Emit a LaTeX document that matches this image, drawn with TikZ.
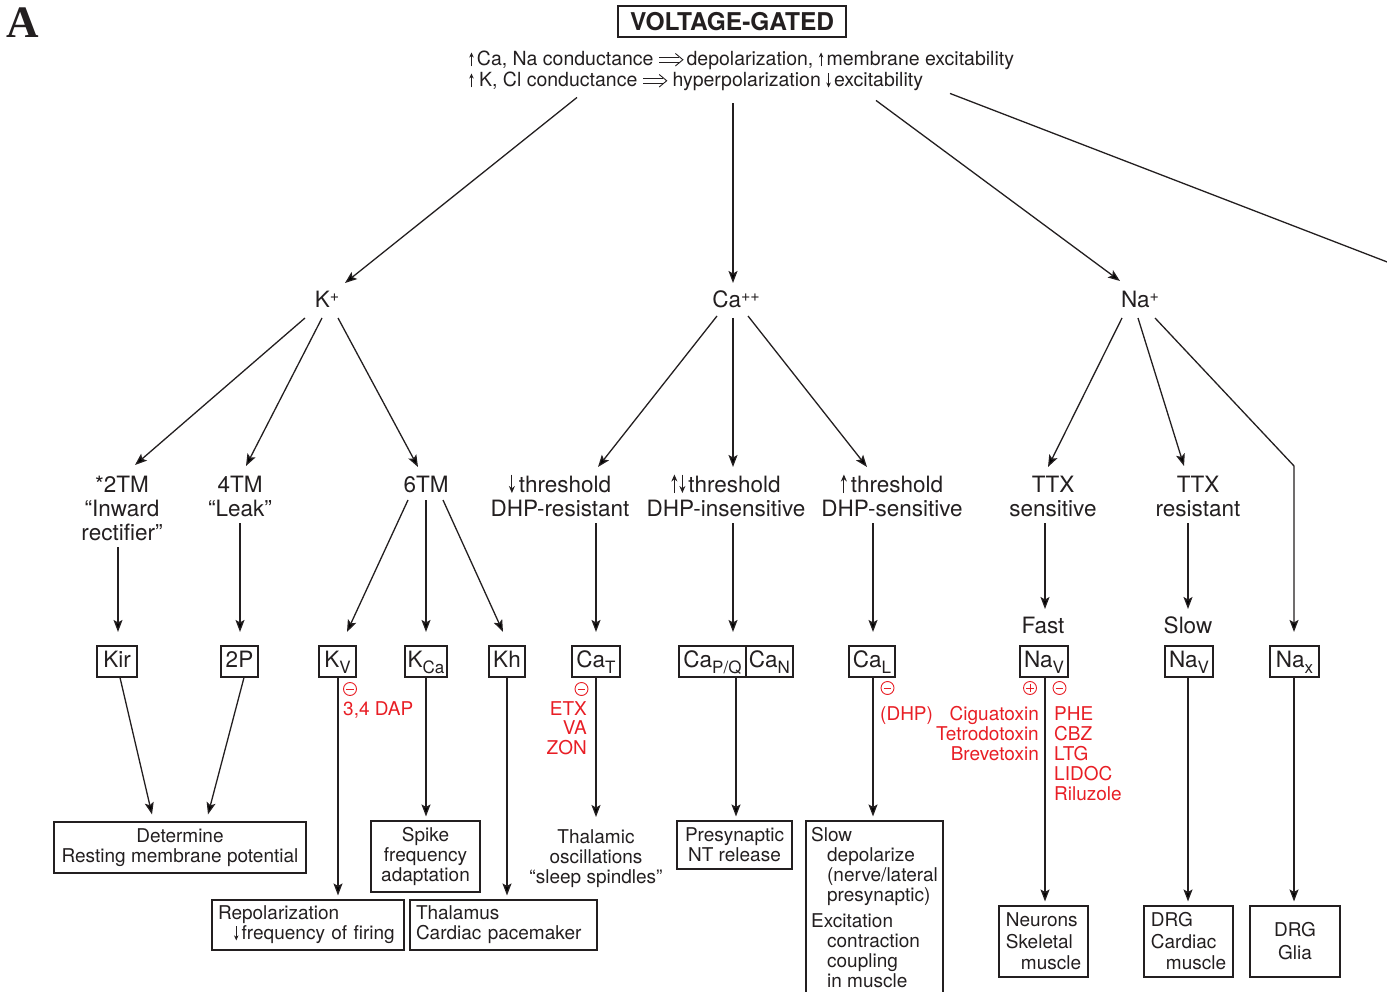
\documentclass[tikz,border=0pt]{standalone}
\usepackage{fontspec}
\setmainfont{TeX Gyre Heros}
\newfontfamily\serifA{Liberation Serif}
\usetikzlibrary{arrows.meta,calc}
\definecolor{drug}{RGB}{232,30,37}
\definecolor{ink}{RGB}{35,31,32}
\newcommand{\ionsup}[1]{\raisebox{6.5pt}{\fontsize{16}{16}\selectfont #1}}
\newcommand{\chsub}[1]{\raisebox{-0.28em}{\fontsize{17}{17}\selectfont #1}}
\newcommand{\bigup}{\tikz[baseline=0pt]\draw[draw=ink,line width=1.1pt,-{Stealth[length=7pt,width=6pt]}] (0pt,-1pt) -- (0pt,17.5pt);}
\newcommand{\bigdown}{\tikz[baseline=0pt]\draw[draw=ink,line width=1.1pt,-{Stealth[length=7pt,width=6pt]}] (0pt,17.5pt) -- (0pt,-1pt);}
\newcommand{\smup}{\tikz[baseline=0pt]\draw[draw=ink,line width=0.9pt,-{Stealth[length=5pt,width=4.5pt]}] (0pt,-0.5pt) -- (0pt,13.5pt);}
\newcommand{\smdown}{\tikz[baseline=0pt]\draw[draw=ink,line width=0.9pt,-{Stealth[length=5pt,width=4.5pt]}] (0pt,13.5pt) -- (0pt,-0.5pt);}
\newcommand{\implarr}{\tikz[baseline=0pt]{\draw[draw=ink,line width=0.9pt] (0pt,4pt) -- (20pt,4pt) (0pt,8.5pt) -- (20pt,8.5pt);
  \draw[draw=ink,line width=0.9pt,line join=miter] (16pt,12.5pt) -- (23.5pt,6.25pt) -- (16pt,0pt);}}
\tikzset{
  tbig/.style={font=\fontsize{22.5}{24}\selectfont},
  tsml/.style={font=\fontsize{19}{20}\selectfont},
  lbl/.style={tbig, align=center, inner sep=2pt, text=ink, anchor=base},
  arr/.style={draw=ink, line width=1.3pt, -{Stealth[length=12pt,width=9pt,inset=2.5pt]}},
  ln/.style={draw=ink, line width=1.3pt},
  framed/.style={draw=ink, line width=1.1pt, inner sep=0pt, text=ink},
  chbox/.style={framed, tbig, minimum height=31pt, text height=16pt, text depth=5pt},
  bbox/.style={framed, tsml, align=center},
  lbox/.style={framed, tsml, align=left},
  ltbox/.style={framed, tsml, align=left, inner xsep=6pt},
  drugtxt/.style={font=\fontsize{19}{20}\selectfont, text=drug, inner sep=0pt},
  sign/.style={circle, draw=drug, line width=0.9pt, minimum size=13pt, inner sep=0pt},
  signminus/.style={sign, path picture={\draw[drug,line width=1pt] ([xshift=-3.6pt]path picture bounding box.center) -- ([xshift=3.6pt]path picture bounding box.center);}},
  signplus/.style={sign, path picture={\draw[drug,line width=1pt] ([xshift=-3.6pt]path picture bounding box.center) -- ([xshift=3.6pt]path picture bounding box.center) ([yshift=-3.6pt]path picture bounding box.center) -- ([yshift=3.6pt]path picture bounding box.center);}},
}
\begin{document}
\begin{tikzpicture}[x=1pt,y=-1pt]
\useasboundingbox (0,0) rectangle (1387,992);

% label A
\node[font=\serifA\bfseries\fontsize{45}{45}\selectfont, anchor=base west, inner sep=0pt, text=ink] (lblA) at (6,38) {A};

% title and header
\node[framed, font=\fontsize{24.5}{26}\selectfont\bfseries, minimum width=228pt, minimum height=31pt] (title) at (732,21.5) {VOLTAGE-GATED};
\node[font=\fontsize{19.5}{21}\selectfont, anchor=base west, align=left, inner sep=0pt, text=ink] (hdr) at (469,87)
  {\smup\,Ca, Na conductance \implarr\,depolarization, \smup\,membrane excitability\\
   \smup\ K, Cl conductance \implarr\ hyperpolarization \smdown\,excitability};

% ions
\node[lbl] (Kion) at (327,308) {K\ionsup{+}};
\node[lbl] (Caion) at (736,308) {Ca\ionsup{++}};
\node[lbl] (Naion) at (1140,308) {Na\ionsup{+}};

% second level (base = last line)
\node[lbl] (tm2) at (122,540) {*2TM\\``Inward\\rectifier''};
\node[lbl] (tm4) at (240,516) {4TM\\``Leak''};
\node[lbl] (tm6) at (426,492) {6TM};
\node[lbl] (thr1) at (560,516) {\bigdown\hspace{4pt}threshold\\DHP-resistant};
\node[lbl] (thr2) at (726,516) {\bigup\hspace{2pt}\bigdown\hspace{3pt}threshold\\DHP-insensitive};
\node[lbl] (thr3) at (892,516) {\bigup\hspace{4pt}threshold\\DHP-sensitive};
\node[lbl] (ttxs) at (1053,516) {TTX\\sensitive};
\node[lbl] (ttxr) at (1198,516) {TTX\\resistant};
\node[lbl] (fast) at (1043,633) {Fast};
\node[lbl] (slow) at (1188,633) {Slow};

% third level boxes
\node[chbox, minimum width=40pt] (Kir) at (117,661.5) {Kir};
\node[chbox, minimum width=37pt] (twoP) at (239.5,661.5) {2P};
\node[chbox, minimum width=37pt] (Kv) at (337.5,661.5) {K\chsub{V}};
\node[chbox, minimum width=42pt] (Kca) at (426,661.5) {K\chsub{Ca}};
\node[chbox, minimum width=36pt] (Kh) at (507,661.5) {Kh};
\node[chbox, minimum width=48pt] (CaT) at (596,661.5) {Ca\chsub{T}};
\node[chbox, minimum width=67pt] (CaPQ) at (712.5,661.5) {Ca\chsub{P/Q}};
\node[chbox, minimum width=47pt] (CaN) at (769.5,661.5) {Ca\chsub{N}};
\node[chbox, minimum width=46pt] (CaL) at (872,661.5) {Ca\chsub{L}};
\node[chbox, minimum width=48pt] (NaVf) at (1044,661.5) {Na\chsub{V}};
\node[chbox, minimum width=48pt] (NaVs) at (1189,661.5) {Na\chsub{V}};
\node[chbox, minimum width=49pt] (Nax) at (1294.5,661.5) {Na\chsub{x}};

% bottom boxes
\node[bbox, minimum width=252pt, minimum height=51pt] (det) at (180,847.5) {Determine\\Resting membrane potential};
\node[ltbox, text width=180pt, minimum height=50pt] (repol) at (308,925) {Repolarization\\\hspace*{16pt}\smdown\,frequency of firing};
\node[bbox, minimum width=109pt, minimum height=71pt] (spike) at (425.5,856.5) {Spike\\frequency\\adaptation};
\node[ltbox, text width=175pt, minimum height=50pt] (thal) at (503.5,925) {Thalamus\\Cardiac pacemaker};
\node[tsml, align=center, anchor=base, inner sep=0pt, text=ink] (thalosc) at (596,883) {Thalamic\\oscillations\\``sleep spindles''};
\node[bbox, minimum width=115pt, minimum height=48pt] (presyn) at (734.5,845) {Presynaptic\\NT release};
\node[lbox, minimum width=137pt, minimum height=174pt] (slowbox) at (874.5,908) {Slow\\
\hspace*{16pt}depolarize\\
\hspace*{16pt}(nerve/lateral\\
\hspace*{16pt}presynaptic)\\[6pt]
Excitation\\
\hspace*{16pt}contraction\\
\hspace*{16pt}coupling\\
\hspace*{16pt}in muscle};
\node[lbox, font=\fontsize{19}{21.5}\selectfont, minimum width=89pt, minimum height=71pt] (neurons) at (1043.5,941.5) {Neurons\\Skeletal\\\hspace*{15pt}muscle};
\node[lbox, font=\fontsize{19}{21.5}\selectfont, minimum width=89pt, minimum height=71pt] (drg1) at (1188.5,941.5) {DRG\\Cardiac\\\hspace*{15pt}muscle};
\node[bbox, font=\fontsize{19}{23}\selectfont, minimum width=90pt, minimum height=71pt] (drg2) at (1295,941.5) {DRG\\Glia};

% drug labels (base = last line)
\node[signminus] (s1) at (350,689) {};
\node[drugtxt, anchor=base west] (dap) at (343,715) {3,4 DAP};
\node[signminus] (s2) at (581.5,689) {};
\node[drugtxt, font=\fontsize{19}{19.5}\selectfont, anchor=base east, align=right] (etx) at (587,754) {ETX\\VA\\ZON};
\node[signminus] (s3) at (887.5,688) {};
\node[drugtxt, anchor=base west] (dhp) at (880,720) {(DHP)};
\node[signplus] (s4) at (1030,688) {};
\node[signminus] (s5) at (1059.5,688) {};
\node[drugtxt, anchor=base east, align=right] (tox) at (1039,760) {Ciguatoxin\\Tetrodotoxin\\Brevetoxin};
\node[drugtxt, anchor=base west, align=left] (aeds) at (1054,800) {PHE\\CBZ\\LTG\\LIDOC\\Riluzole};

% connectors from header
\coordinate (offend) at (1395,265);
\draw[arr] ($(hdr.south west)+(108,6)$) -- ($(Kion.base)+(18,-25)$);
\draw[arr] ($(hdr.south west)+(264,12)$) -- ($(Caion.base)+(-3,-25)$);
\draw[arr] ($(hdr.south west)+(407,9)$) -- ($(Naion.base)+(-20,-27)$);
\draw[ln] ($(hdr.south west)+(481,2)$) -- (offend);

% K branch
\draw[arr] ($(Kion.base)+(-22,10)$) -- ($(tm2.base)+(13,-75)$);
\draw[arr] ($(Kion.base)+(-5,10)$) -- ($(tm4.base)+(6,-50)$);
\draw[arr] ($(Kion.base)+(11,10)$) -- ($(tm6.base)+(-8,-25)$);
% Ca branch
\draw[arr] ($(Caion.base)+(-19,8)$) -- ($(thr1.base)+(38,-49)$);
\draw[arr] ($(Caion.base)+(-3,10)$) -- ($(thr2.base)+(7,-49)$);
\draw[arr] ($(Caion.base)+(12,8)$) -- ($(thr3.base)+(-25,-49)$);
% Na branch
\draw[arr] ($(Naion.base)+(-18,10)$) -- ($(ttxs.base)+(-5,-49)$);
\draw[arr] ($(Naion.base)+(-2,10)$) -- ($(ttxr.base)+(-14,-50)$);
\draw[arr] ($(Naion.base)+(15,10)$) -- ($(Nax.north)+(-0.5,-179.5)$) -- ($(Nax.north)+(-0.5,-13.5)$);

% second to third level
\draw[arr] ($(tm2.base)+(-4,7)$) -- ($(Kir.north)+(1,-13.5)$);
\draw[arr] ($(tm4.base)+(0,7)$) -- ($(twoP.north)+(0.5,-13.5)$);
\draw[arr] ($(tm6.base)+(-18,8)$) -- ($(Kv.north)+(9.5,-13.5)$);
\draw[arr] ($(tm6.base)+(0,8)$) -- ($(Kca.north)+(0,-13.5)$);
\draw[arr] ($(tm6.base)+(17,8)$) -- ($(Kh.north)+(-4,-13.5)$);
\draw[arr] ($(thr1.base)+(36,7)$) -- ($(CaT.north)+(0,-13.5)$);
\draw[arr] ($(thr2.base)+(7,7)$) -- ($(CaPQ.north)+(20.5,-13.5)$);
\draw[arr] ($(thr3.base)+(-19,7)$) -- ($(CaL.north)+(1,-13.5)$);
\draw[arr] ($(ttxs.base)+(-8,7)$) -- ($(fast.base)+(2,-24)$);
\draw[arr] ($(ttxr.base)+(-10,7)$) -- ($(slow.base)+(0,-24)$);

% third level to bottom
\draw[arr] ($(Kir.south)+(3,0)$) -- ($(det.north)+(-28,-7)$);
\draw[arr] ($(twoP.south)+(4.5,0)$) -- ($(det.north)+(28,-7)$);
\draw[arr] ($(Kv.south)+(0.5,0)$) -- ($(repol.north)+(30,-4)$);
\draw[arr] (Kca.south) -- ($(spike.north)+(0.5,-4)$);
\draw[arr] (Kh.south) -- ($(thal.north)+(3.5,-4)$);
\draw[arr] (CaT.south) -- ($(thalosc.base)+(0,-66)$);
\draw[arr] ($(CaPQ.south)+(23.5,0)$) -- ($(presyn.north)+(1.5,-4)$);
\draw[arr] ($(CaL.south)+(1,0)$) -- ($(slowbox.north)+(-1.5,-4)$);
\draw[arr] ($(NaVf.south)+(1,0)$) -- ($(neurons.north)+(1.5,-4)$);
\draw[arr] ($(NaVs.south)+(-1,0)$) -- ($(drg1.north)+(-0.5,-4)$);
\draw[arr] ($(Nax.south)+(-0.5,0)$) -- ($(drg2.north)+(-1,-4)$);
\end{tikzpicture}
\end{document}
